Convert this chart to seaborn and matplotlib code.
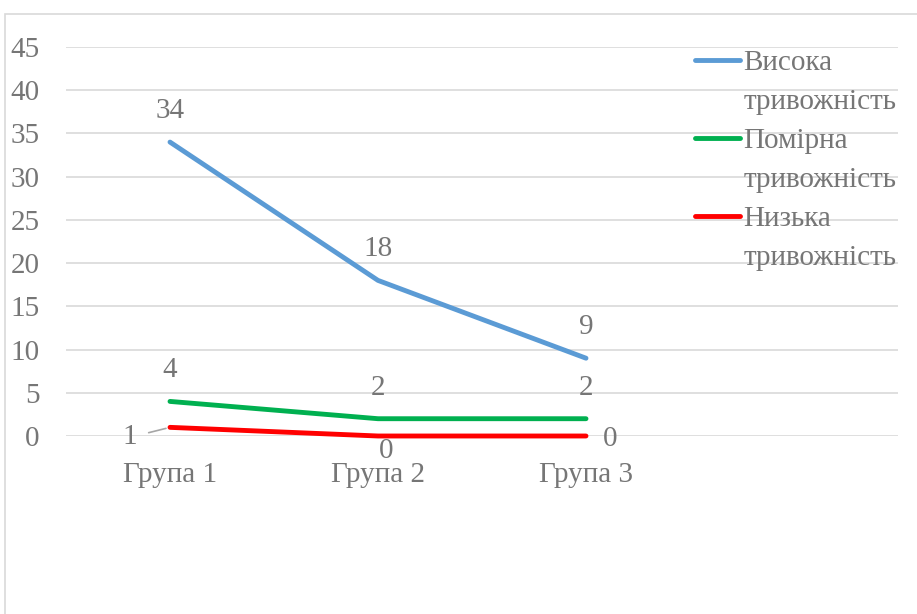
import matplotlib
matplotlib.use("Agg")
import matplotlib.pyplot as plt
from matplotlib.lines import Line2D
from matplotlib.patches import Rectangle
import pandas as pd
import seaborn as sns

groups = ["Група 1", "Група 2", "Група 3"]
series_names = ["Висока тривожність", "Помірна тривожність", "Низька тривожність"]
high = [34, 18, 9]
moderate = [4, 2, 2]
low = [1, 0, 0]
colors = ["#5B9BD5", "#00B050", "#FF0000"]
y_ticks = [0, 5, 10, 15, 20, 25, 30, 35, 40, 45]

TEXT = "#767676"
GRID = "#D9D9D9"
FS = 21

sns.set_theme(style="white")
plt.rcParams["font.family"] = ["Liberation Serif", "DejaVu Serif"]

rows = []
for name, vals in zip(series_names, [high, moderate, low]):
    for g, v in zip(groups, vals):
        rows.append({"Група": g, "Значення": v, "Рівень": name})
df = pd.DataFrame(rows)

fig = plt.figure(figsize=(9.17, 6.14), dpi=100)
fig.patch.set_facecolor("white")

# chart-area frame
fig.patches.append(Rectangle((5 / 917, -0.1), 1.2, 1 - 14 / 614 + 0.1,
                             transform=fig.transFigure, fill=False,
                             edgecolor=GRID, linewidth=1.2, zorder=0))

ax = fig.add_axes([66 / 917, 1 - 436 / 614, (898 - 66) / 917, (436 - 47) / 614])
ax.set_facecolor("none")

sns.lineplot(data=df, x="Група", y="Значення", hue="Рівень",
             hue_order=series_names, palette=colors, linewidth=3.5,
             sort=False, legend=False, ax=ax, solid_capstyle="round", zorder=3)
for ln in ax.get_lines():
    ln.set_clip_on(False)

ax.set_xlim(-0.5, 3.5)
ax.set_ylim(0, 45)
ax.set_yticks(y_ticks)
ax.set_yticklabels([str(t) for t in y_ticks])
ax.set_xticks(range(len(groups)))
ax.set_xticklabels(groups)
ax.set_xlabel("")
ax.set_ylabel("")
for s in ax.spines.values():
    s.set_visible(False)
ax.grid(axis="y", color=GRID, linewidth=1.2, zorder=0)
ax.grid(axis="x", visible=False)
ax.tick_params(axis="y", length=0, pad=19, labelsize=FS, labelcolor=TEXT)
ax.tick_params(axis="x", length=0, pad=19, labelsize=FS, labelcolor=TEXT)

px = 0.72  # points per pixel at 100 dpi

def label(x, y, txt, dx, dy, leader=False):
    kw = dict(textcoords="offset points", ha="center", va="center",
              fontsize=FS, color=TEXT, zorder=4)
    if leader:
        kw["arrowprops"] = dict(arrowstyle="-", color="#A6A6A6", lw=1.2,
                                shrinkA=6, shrinkB=3)
    ax.annotate(txt, xy=(x, y), xytext=(dx * px, dy * px), **kw)

for i, v in enumerate(high):
    label(i, v, str(v), 0, 31)
for i, v in enumerate(moderate):
    label(i, v, str(v), 0, 31)
label(0, low[0], str(low[0]), -40, -10, leader=True)
label(1, low[1], str(low[1]), 8, -15)
label(2, low[2], str(low[2]), 24, -3)

# legend: each name split over two rows, handle on the first
handles, labels = [], []
for name, c in zip(series_names, colors):
    first, second = name.split(" ", 1)
    handles.append(Line2D([], [], color=c, linewidth=3.5, solid_capstyle="round"))
    labels.append(first)
    handles.append(Line2D([], [], color="none"))
    labels.append(second)
leg = ax.legend(handles, labels, loc="upper left",
                bbox_to_anchor=(695 / 917, 1 - 50 / 614), bbox_transform=fig.transFigure,
                frameon=False, fontsize=FS, handlelength=1.55, handletextpad=0.1,
                labelspacing=0.43, borderpad=0, borderaxespad=0)
for t in leg.get_texts():
    t.set_color(TEXT)

fig.savefig("out.png", dpi=100, facecolor="white")
